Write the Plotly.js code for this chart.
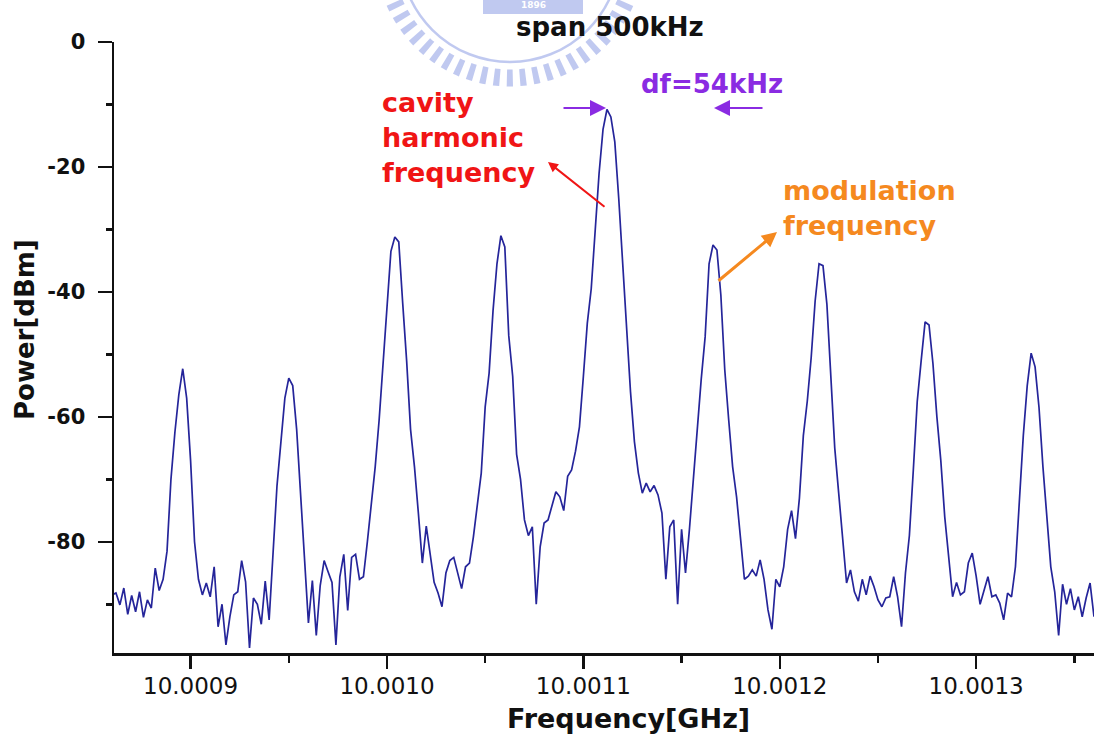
<!DOCTYPE html>
<html>
<head>
<meta charset="utf-8">
<script src="https://cdn.plot.ly/plotly-3.0.1.min.js"></script>
<style>
  html, body { margin: 0; padding: 0; background: #ffffff; }
  #chart { width: 1094px; height: 735px; }
</style>
</head>
<body>
<div id="chart"></div>
<script>
// Spectrum analyzer sweep: start frequency and bin width (GHz)
const sweepStartGHz = 10.00086;
const sweepStepGHz = 0.000002;

// Measured power per sweep bin (dBm), 251 bins over a 500 kHz span
const powerDbm = [
  -88.5, -88.2, -90.1, -87.4, -91.6, -88.6, -91.2, -88.0, -92.1, -89.3,
  -90.6, -84.2, -87.8, -86.0, -81.5, -70.0, -62.5, -56.5, -52.3, -57.0,
  -67.0, -80.0, -86.0, -88.5, -86.6, -88.8, -84.0, -93.6, -90.0, -96.5,
  -92.0, -88.5, -88.0, -83.0, -86.4, -97.0, -89.0, -90.0, -93.2, -86.3,
  -92.5, -81.5, -71.0, -64.0, -57.0, -53.8, -55.0, -62.0, -73.0, -83.0,
  -93.0, -86.2, -95.0, -87.0, -83.0, -84.8, -86.5, -96.5, -85.6, -82.0,
  -91.0, -82.5, -82.0, -86.0, -85.6, -80.0, -74.5, -68.0, -60.5, -52.0,
  -42.0, -33.5, -31.2, -32.0, -41.8, -51.0, -62.0, -68.0, -75.5, -83.4,
  -77.5, -81.8, -86.5, -88.2, -90.4, -85.0, -83.0, -82.5, -85.0, -87.5,
  -84.0, -83.4, -79.2, -74.4, -69.0, -58.4, -53.0, -43.0, -35.5, -31.0,
  -32.8, -47.0, -53.5, -66.0, -70.0, -76.5, -79.0, -77.6, -90.0, -80.8,
  -77.0, -76.5, -74.4, -72.0, -72.8, -75.0, -69.5, -68.5, -65.5, -61.6,
  -53.5, -45.0, -39.5, -30.0, -21.0, -14.0, -10.8, -12.0, -16.0, -25.0,
  -36.0, -46.5, -56.0, -64.0, -69.0, -72.2, -70.6, -72.0, -71.0, -72.5,
  -75.4, -86.0, -77.6, -76.5, -90.0, -78.0, -85.0, -78.0, -70.0, -61.0,
  -54.0, -47.2, -35.5, -32.5, -33.3, -40.5, -52.5, -60.5, -68.0, -72.8,
  -80.0, -86.0, -85.5, -84.5, -85.5, -82.9, -86.0, -90.9, -94.0, -86.0,
  -87.2, -84.0, -78.0, -75.0, -79.5, -73.0, -63.0, -57.5, -50.5, -41.5,
  -35.5, -35.8, -42.0, -54.6, -65.0, -72.2, -79.5, -86.6, -84.5, -88.0,
  -89.5, -86.0, -88.5, -85.5, -87.2, -89.3, -90.4, -89.0, -88.8, -85.6,
  -88.8, -93.6, -85.0, -79.0, -68.5, -57.5, -51.0, -44.8, -45.3, -51.5,
  -60.0, -67.0, -76.0, -82.5, -88.8, -86.5, -88.5, -88.0, -83.4, -81.8,
  -85.5, -90.0, -87.7, -85.6, -88.8, -88.5, -89.8, -92.5, -88.2, -88.8,
  -84.0, -72.5, -63.0, -55.0, -49.8, -52.0, -58.5, -68.0, -76.0, -84.0,
  -88.0, -95.0, -86.8, -90.0, -87.5, -90.9, -88.8, -92.0, -89.0, -86.6, -92.0
];

// Power axis ticks, labelled with a plain hyphen
const powerTickVals = [0, -20, -40, -60, -80];
const powerTickText = ['0', '-20', '-40', '-60', '-80'];

// Axis labels and annotation texts
const xTitle = 'Frequency[GHz]';
const yTitle = 'Power[dBm]';
const spanLabel = 'span 500kHz';
const spacingLabel = 'df=54kHz';
const carrierLabel = 'cavity<br>harmonic<br>frequency';
const sidebandLabel = 'modulation<br>frequency';
const sealYear = '1896';

// Plot frame in page pixels, used to place page-level decorations
const W = 1094, H = 735;
const M = { l: 114, r: 0, t: 42, b: 82 };
const plotW = W - M.l - M.r, plotH = H - M.t - M.b;
const px = (x) => (x - M.l) / plotW;
const py = (y) => (H - M.b - y) / plotH;

const FONT = 'DejaVu Sans';
const AXIS_BLACK = '#111111';

const trace = {
  type: 'scatter',
  mode: 'lines',
  x0: sweepStartGHz,
  dx: sweepStepGHz,
  y: powerDbm,
  line: { color: '#25259a', width: 1.7 },
  hoverinfo: 'skip'
};

function textNote(text, x, y, color, size, opts) {
  return Object.assign({
    xref: 'paper', yref: 'paper', x: px(x), y: py(y),
    text: text, showarrow: false,
    font: { family: FONT, size: size, color: color, weight: 'bold' },
    xanchor: 'center', yanchor: 'middle'
  }, opts || {});
}

function arrowNote(headX, headY, tailX, tailY, color, width, size) {
  return {
    xref: 'paper', yref: 'paper', x: px(headX), y: py(headY),
    ax: tailX - headX, ay: tailY - headY,
    text: '', showarrow: true,
    arrowhead: 2, arrowsize: size, arrowwidth: width, arrowcolor: color
  };
}

const sealColor = 'rgba(150,165,230,0.6)';
const sealCx = 510, sealCy = -48;

const layout = {
  width: W, height: H,
  margin: M,
  paper_bgcolor: '#ffffff',
  plot_bgcolor: '#ffffff',
  showlegend: false,
  xaxis: {
    range: [10.000861, 10.00136],
    tick0: 10.0009, dtick: 0.0001,
    tickformat: '.4f',
    ticks: 'outside', ticklen: 13, tickwidth: 2.5, tickcolor: AXIS_BLACK,
    minor: { dtick: 0.00005, ticks: 'outside', ticklen: 7, tickwidth: 2.5, tickcolor: AXIS_BLACK },
    showline: true, linewidth: 2.5, linecolor: AXIS_BLACK,
    showgrid: false, zeroline: false,
    ticklabelstandoff: -2,
    tickfont: { family: FONT, size: 23, color: AXIS_BLACK }
  },
  yaxis: {
    range: [-97.8, 0],
    tickmode: 'array', tickvals: powerTickVals, ticktext: powerTickText,
    ticks: 'outside', ticklen: 14, tickwidth: 2.5, tickcolor: AXIS_BLACK,
    minor: { dtick: 10, ticks: 'outside', ticklen: 6, tickwidth: 2.5, tickcolor: AXIS_BLACK },
    showline: true, linewidth: 2.5, linecolor: AXIS_BLACK,
    showgrid: false, zeroline: false,
    ticklabelstandoff: 8,
    tickfont: { family: FONT, size: 21, color: AXIS_BLACK, weight: 'bold' }
  },
  shapes: [
    // university seal: toothed outer ring, inner ring and year plate
    {
      type: 'circle', xref: 'paper', yref: 'paper', layer: 'below',
      x0: px(sealCx - 126), x1: px(sealCx + 126),
      y0: py(sealCy + 126), y1: py(sealCy - 126),
      line: { color: sealColor, width: 17, dash: '6px,7px' }
    },
    {
      type: 'circle', xref: 'paper', yref: 'paper', layer: 'below',
      x0: px(sealCx - 110), x1: px(sealCx + 110),
      y0: py(sealCy + 110), y1: py(sealCy - 110),
      line: { color: sealColor, width: 2.5 }
    },
    {
      type: 'rect', xref: 'paper', yref: 'paper', layer: 'below',
      x0: px(483), x1: px(583), y0: py(14), y1: py(-5),
      fillcolor: sealColor, line: { width: 0 }
    }
  ],
  annotations: [
    textNote(sealYear, 533, 5, '#ffffff', 9, { borderpad: 0 }),
    textNote(spanLabel, 610, 27, '#111111', 26),
    textNote(spacingLabel, 712, 84, '#8a2be2', 26),
    arrowNote(606, 108, 562, 108, '#8a2be2', 2, 1.6),
    arrowNote(714, 108, 764, 108, '#8a2be2', 2, 1.6),
    textNote(carrierLabel, 380, 138, '#f01515', 27, { xanchor: 'left', align: 'left' }),
    arrowNote(548, 162, 606, 208, '#f01515', 2, 1.0),
    textNote(sidebandLabel, 781, 208, '#f5891f', 27, { xanchor: 'left', align: 'left' }),
    arrowNote(777, 232, 717, 282, '#f5891f', 3, 1.0),
    textNote(yTitle, 25, 330, AXIS_BLACK, 26, { textangle: -90 }),
    textNote(xTitle, 628, 719, AXIS_BLACK, 27)
  ]
};

Plotly.newPlot('chart', [trace], layout, { displayModeBar: false, staticPlot: true });
</script>
</body>
</html>
